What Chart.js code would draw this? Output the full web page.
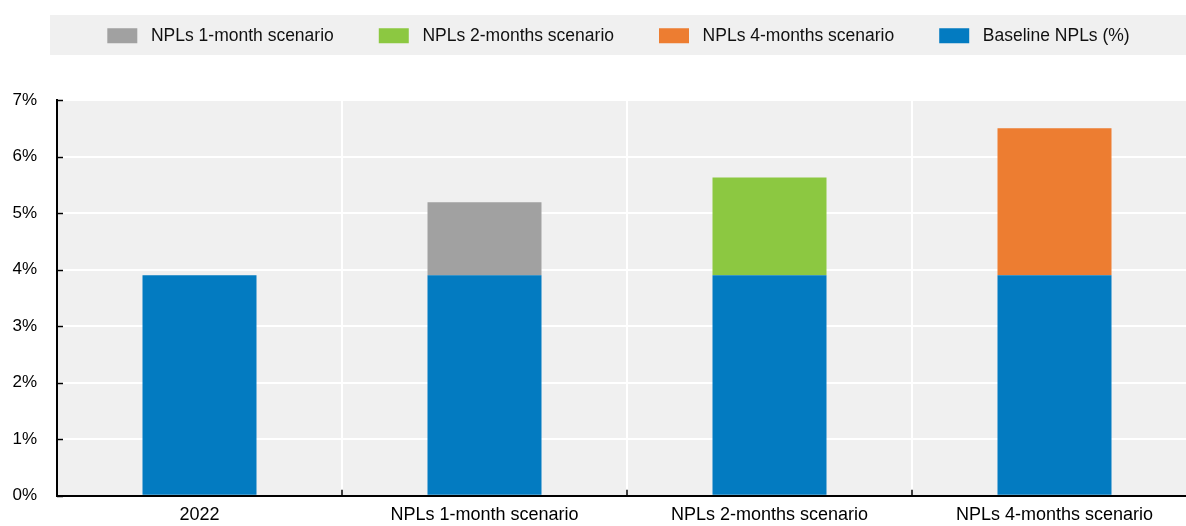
<!DOCTYPE html>
<html>
<head>
<meta charset="utf-8">
<script src="https://cdn.jsdelivr.net/npm/chart.js@4.4.1/dist/chart.umd.min.js"></script>
<style>
  html, body { margin: 0; padding: 0; background: #ffffff; overflow: hidden; width: 1186px; height: 526px; }
  #wrap { position: absolute; left: 0; top: 0; width: 1240px; height: 526px; }
</style>
</head>
<body>
<div id="wrap"><canvas id="c"></canvas></div>
<script>
const categories = ['2022', 'NPLs 1-month scenario', 'NPLs 2-months scenario', 'NPLs 4-months scenario'];
const baselineNPLs = [3.9, 3.9, 3.9, 3.9];
const npl1Month = [null, 1.29, null, null];
const npl2Months = [null, null, 1.73, null];
const npl4Months = [null, null, null, 2.6];
const yTicks = [0, 1, 2, 3, 4, 5, 6, 7];
const legendOrder = [1, 2, 3, 0];

const FONT = '"Liberation Sans", Arial, sans-serif';
Chart.defaults.font.family = FONT;
Chart.defaults.color = '#000000';

const LEGEND_DX = 20, LEGEND_DY = -33;

const customPlugin = {
  id: 'custom',
  afterInit(chart) {
    const lg = chart.legend;
    const origFit = lg.fit.bind(lg);
    lg.fit = function () { origFit(); this.height = 85; };
    const origDraw = lg.draw.bind(lg);
    lg.draw = function () {
      const ctx = chart.ctx;
      ctx.save();
      ctx.fillStyle = '#f0f0f0';
      ctx.fillRect(50, 15, chart.width - 50, 40);
      ctx.translate(LEGEND_DX, LEGEND_DY);
      origDraw();
      ctx.restore();
    };
  },
  beforeDraw(chart) {
    const a = chart.chartArea;
    const ctx = chart.ctx;
    ctx.save();
    ctx.fillStyle = '#f0f0f0';
    ctx.fillRect(a.left, a.top, a.right - a.left, a.bottom - a.top);
    ctx.restore();
  },
  afterDraw(chart) {
    const ctx = chart.ctx;
    const a = chart.chartArea;
    const y = chart.scales.y, x = chart.scales.x;
    ctx.save();
    ctx.strokeStyle = '#000000';
    ctx.lineWidth = 1.5;
    ctx.beginPath();
    yTicks.forEach(v => {
      const py = Math.round(y.getPixelForValue(v)) + 0.5;
      ctx.moveTo(a.left, py);
      ctx.lineTo(a.left + 6, py);
    });
    for (let i = 1; i < categories.length; i++) {
      const px = Math.round((x.getPixelForValue(i - 1) + x.getPixelForValue(i)) / 2);
      ctx.moveTo(px, a.bottom);
      ctx.lineTo(px, a.bottom - 6);
    }
    ctx.stroke();
    ctx.restore();
  }
};

new Chart(document.getElementById('c'), {
  type: 'bar',
  data: {
    labels: categories,
    datasets: [
      { label: 'Baseline NPLs (%)', data: baselineNPLs, backgroundColor: '#037bc1' },
      { label: 'NPLs 1-month scenario', data: npl1Month, backgroundColor: '#a1a1a1' },
      { label: 'NPLs 2-months scenario', data: npl2Months, backgroundColor: '#8cc841' },
      { label: 'NPLs 4-months scenario', data: npl4Months, backgroundColor: '#ed7d31' }
    ]
  },
  options: {
    responsive: true,
    maintainAspectRatio: false,
    animation: false,
    layout: { padding: { top: 15, right: 43, left: 0, bottom: 0 } },
    datasets: { bar: { categoryPercentage: 1.0, barPercentage: 0.4, borderWidth: 0 } },
    plugins: {
      tooltip: { enabled: false },
      legend: {
        position: 'top',
        labels: {
          boxWidth: 30,
          boxHeight: 15,
          padding: 45,
          color: '#111111',
          font: { size: 17.5 },
          generateLabels(chart) {
            const items = Chart.defaults.plugins.legend.labels.generateLabels(chart);
            items.forEach(it => { it.text = ' ' + it.text; it.lineWidth = 0; });
            return items;
          },
          sort: (a, b) => legendOrder.indexOf(a.datasetIndex) - legendOrder.indexOf(b.datasetIndex)
        }
      }
    },
    scales: {
      x: {
        stacked: true,
        afterFit(s) { s.height = 26; },
        grid: { offset: true, color: '#ffffff', lineWidth: 2, drawTicks: false },
        border: { color: '#000000', width: 2 },
        ticks: { padding: 8, font: { size: 18 }, color: '#000000', maxRotation: 0, autoSkip: false }
      },
      y: {
        stacked: true,
        min: 0, max: 7,
        afterFit(s) { s.width = 57; },
        grid: { color: '#ffffff', lineWidth: 2, drawTicks: false },
        border: { color: '#000000', width: 2 },
        ticks: { stepSize: 1, padding: 20, font: { size: 17 }, color: '#000000', callback: v => v + '%' }
      }
    }
  },
  plugins: [customPlugin]
});
</script>
</body>
</html>
